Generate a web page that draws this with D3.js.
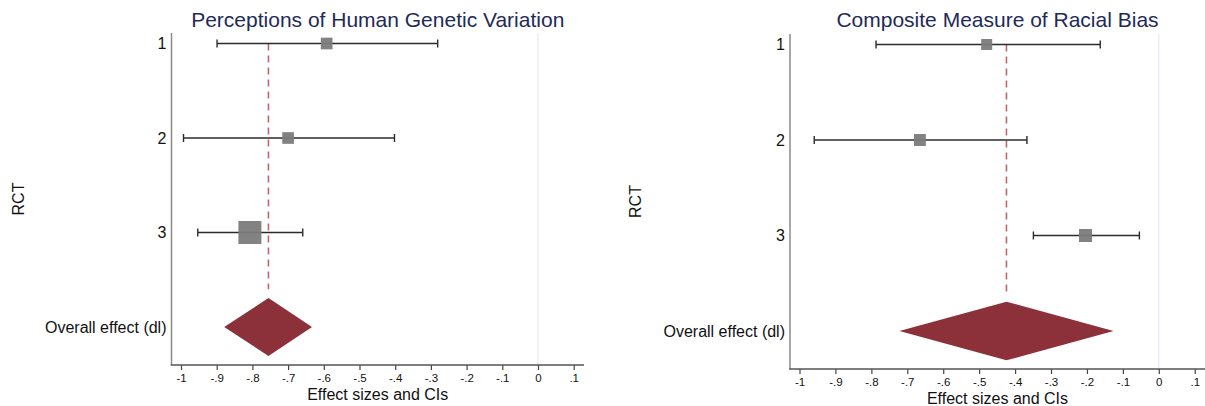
<!DOCTYPE html>
<html>
<head>
<meta charset="utf-8">
<script src="https://cdn.jsdelivr.net/npm/d3@7"></script>
<style>
  body { margin: 0; background: #fff; }
  svg { display: block; font-family: Helvetica, Arial, "Liberation Sans", sans-serif; }
</style>
</head>
<body>
<div id="chart"></div>
<script>
// row labels, shared by both panels
const rowLabels = ["1", "2", "3", "Overall effect (dl)"];
const xTicks = [-1, -0.9, -0.8, -0.7, -0.6, -0.5, -0.4, -0.3, -0.2, -0.1, 0, 0.1];

// panel 1: perceptions of human genetic variation
const geneticTitle = "Perceptions of Human Genetic Variation";
const geneticEst = [-0.592, -0.700, -0.807];
const geneticLo = [-0.899, -0.993, -0.953];
const geneticHi = [-0.281, -0.402, -0.659];
const geneticWeight = [17, 17, 66];
const geneticOverall = [-0.879, -0.755, -0.633]; // lo, est, hi

// panel 2: composite measure of racial bias
const biasTitle = "Composite Measure of Racial Bias";
const biasEst = [-0.479, -0.665, -0.204];
const biasLo = [-0.787, -0.959, -0.349];
const biasHi = [-0.163, -0.367, -0.054];
const biasWeight = [28, 33, 39];
const biasOverall = [-0.722, -0.424, -0.126];

const W = 1205, H = 406;

const svg = d3.select('#chart').append('svg')
    .attr('width', W)
    .attr('height', H);

// format ticks like stata: -.9, 0, .1
const fmt = d => {
  const v = Number(d.toFixed(1));
  if (v === 0) return '0';
  return String(v).replace('0.', '.');
};

function drawPanel(p) {
  const g = svg.append('g');

  const x = d3.scaleLinear()
      .domain([-1, 0.1])
      .range([p.left + 9.5, p.left + 9.5 + p.unit * 1.1]);
  const y = d3.scaleLinear()
      .domain([1, 4])
      .range([p.top + 10.5, p.bottom - 38]);
  const box = d3.scaleSqrt()
      .domain([0, d3.max(p.weight)])
      .range([0, p.boxMax]);

  // zero line
  g.append('line')
      .attr('x1', x(0)).attr('x2', x(0))
      .attr('y1', p.top).attr('y2', p.bottom)
      .attr('stroke', '#e4ebf1')
      .attr('stroke-width', 1.2);

  // title
  g.append('text')
      .attr('x', (p.left + p.right) / 2)
      .attr('y', 27)
      .attr('text-anchor', 'middle')
      .attr('font-size', 21)
      .attr('fill', '#1e2b58')
      .text(p.title);

  // y axis line
  g.append('line')
      .attr('x1', p.left).attr('x2', p.left)
      .attr('y1', p.top).attr('y2', p.bottom)
      .attr('stroke', '#8a8a8a')
      .attr('stroke-width', 1.5);

  // row labels
  g.selectAll('.rowlab')
      .data(rowLabels)
      .enter()
      .append('text')
      .attr('x', p.left - 5)
      .attr('y', (d, i) => y(i + 1))
      .attr('dy', '0.35em')
      .attr('text-anchor', 'end')
      .attr('font-size', 16)
      .attr('fill', '#111')
      .text(d => d);

  g.append('text')
      .attr('transform', `translate(${p.rctX},${(p.top + p.bottom) / 2}) rotate(-90)`)
      .attr('text-anchor', 'middle')
      .attr('dy', '0.35em')
      .attr('font-size', 16)
      .attr('fill', '#111')
      .text('RCT');

  // x axis
  const ax = g.append('g')
      .attr('transform', `translate(0,${p.bottom})`)
      .call(d3.axisBottom(x).tickValues(xTicks).tickSize(5).tickSizeOuter(0).tickFormat(fmt));
  ax.select('.domain').remove();
  ax.selectAll('line').attr('stroke', '#444').attr('stroke-width', 1.2);
  ax.selectAll('text')
      .attr('font-size', 11.5)
      .attr('fill', '#111')
      .attr('font-family', 'Helvetica, Arial, "Liberation Sans", sans-serif')
      .attr('y', 9);
  g.append('line')
      .attr('x1', p.left - 0.75).attr('x2', p.right)
      .attr('y1', p.bottom).attr('y2', p.bottom)
      .attr('stroke', '#555')
      .attr('stroke-width', 1.5);

  g.append('text')
      .attr('x', (p.left + p.right) / 2)
      .attr('y', p.bottom + 35)
      .attr('text-anchor', 'middle')
      .attr('font-size', 16)
      .attr('fill', '#111')
      .text('Effect sizes and CIs');

  // overall dashed line
  const ov = p.overall;
  g.append('line')
      .attr('x1', x(ov[1])).attr('x2', x(ov[1]))
      .attr('y1', y(1)).attr('y2', y(4 - 0.4))
      .attr('stroke', '#c2666b')
      .attr('stroke-width', 1.6)
      .attr('stroke-dasharray', '7,5');

  // confidence intervals
  const studies = p.est.map((e, i) => ({ est: e, lo: p.lo[i], hi: p.hi[i], w: p.weight[i], row: i + 1 }));
  const ci = g.append('g').attr('stroke', '#2b2b2b').attr('stroke-width', 1.4);
  ci.selectAll('.ci')
      .data(studies)
      .enter()
      .append('line')
      .attr('x1', d => x(d.lo)).attr('x2', d => x(d.hi))
      .attr('y1', d => y(d.row)).attr('y2', d => y(d.row));
  ci.selectAll('.capl')
      .data(studies)
      .enter()
      .append('line')
      .attr('x1', d => x(d.lo)).attr('x2', d => x(d.lo))
      .attr('y1', d => y(d.row) - 4).attr('y2', d => y(d.row) + 4);
  ci.selectAll('.caph')
      .data(studies)
      .enter()
      .append('line')
      .attr('x1', d => x(d.hi)).attr('x2', d => x(d.hi))
      .attr('y1', d => y(d.row) - 4).attr('y2', d => y(d.row) + 4);

  // weight boxes
  g.selectAll('.box')
      .data(studies)
      .enter()
      .append('rect')
      .attr('x', d => x(d.est) - box(d.w) / 2)
      .attr('y', d => y(d.row) - box(d.w) / 2)
      .attr('width', d => box(d.w))
      .attr('height', d => box(d.w))
      .attr('fill', '#7b7b7b')
      .attr('fill-opacity', 0.95);

  // overall diamond
  const pts = [
    [x(ov[0]), y(4)],
    [x(ov[1]), y(4 - 0.307)],
    [x(ov[2]), y(4)],
    [x(ov[1]), y(4 + 0.307)]
  ];
  g.append('path')
      .attr('d', d3.line()(pts) + 'Z')
      .attr('fill', '#8c313a');
}

drawPanel({
  title: geneticTitle, est: geneticEst, lo: geneticLo, hi: geneticHi,
  weight: geneticWeight, overall: geneticOverall,
  left: 171.5, right: 584, top: 33, bottom: 365, unit: 357, boxMax: 23, rctX: 18
});
drawPanel({
  title: biasTitle, est: biasEst, lo: biasLo, hi: biasHi,
  weight: biasWeight, overall: biasOverall,
  left: 790, right: 1205, top: 34, bottom: 369, unit: 359.3, boxMax: 13, rctX: 635
});
</script>
</body>
</html>
